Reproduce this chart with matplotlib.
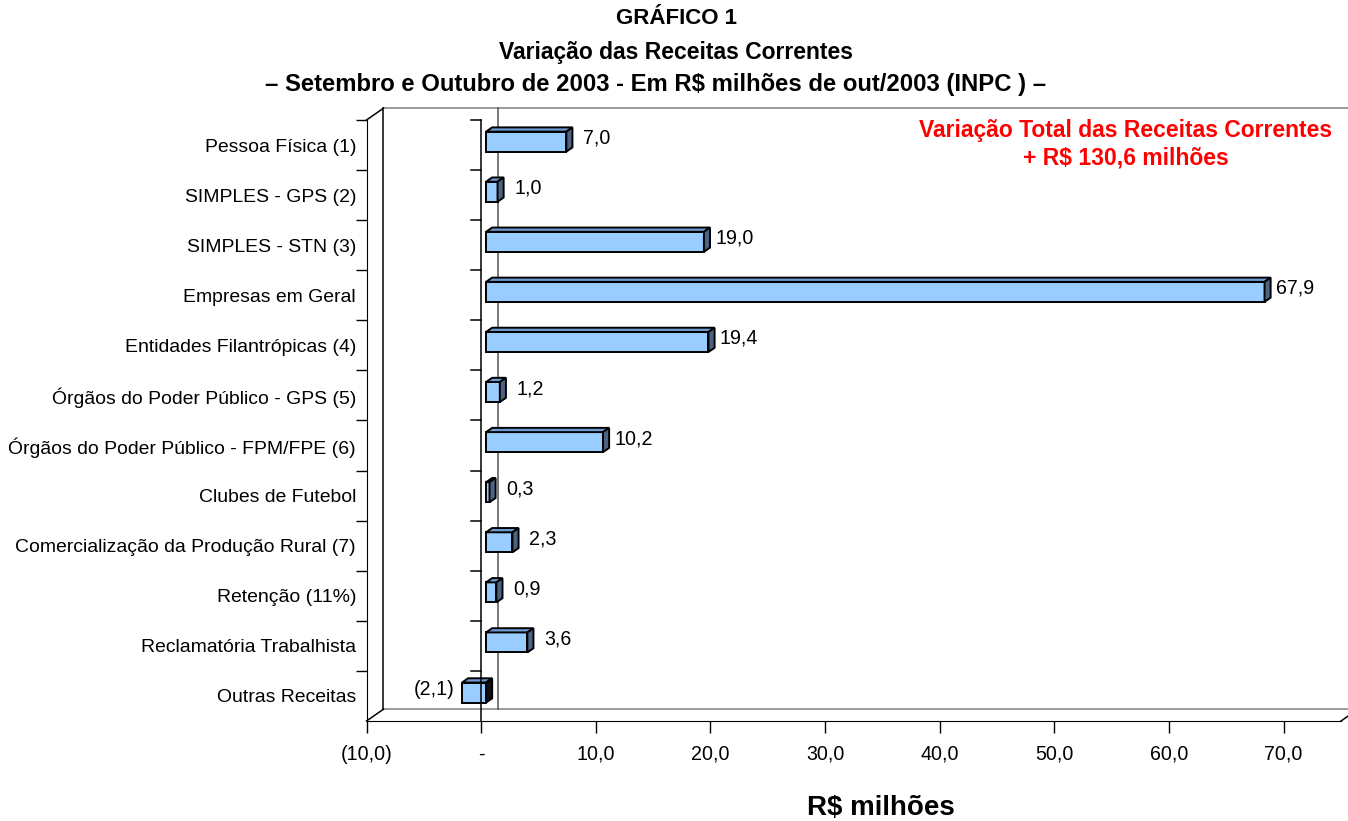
import numpy as np
import matplotlib
matplotlib.use("Agg")
import matplotlib.pyplot as plt
from matplotlib.patches import Polygon
from matplotlib.ticker import FuncFormatter, FixedLocator


categorias = [
    "Pessoa Física (1)",
    "SIMPLES - GPS (2)",
    "SIMPLES - STN (3)",
    "Empresas em Geral",
    "Entidades Filantrópicas (4)",
    "Órgãos do Poder Público - GPS (5)",
    "Órgãos do Poder Público - FPM/FPE (6)",
    "Clubes de Futebol",
    "Comercialização da Produção Rural (7)",
    "Retenção (11%)",
    "Reclamatória Trabalhista",
    "Outras Receitas",
]
variacao = [7.0, 1.0, 19.0, 67.9, 19.4, 1.2, 10.2, 0.3, 2.3, 0.9, 3.6, -2.1]
x_ticks = [-10, 0, 10, 20, 30, 40, 50, 60, 70]

titulo = [
    "GRÁFICO 1",
    "Variação das Receitas Correntes",
    "– Setembro e Outubro de 2003 - Em R$ milhões de out/2003 (INPC ) –",
]
destaque = ["Variação Total das Receitas Correntes", "+ R$ 130,6 milhões"]

FONT = "Liberation Sans"
FRONT = "#99CCFF"
TOP = "#6E9BD2"
SIDE = "#4B6484"
GRAY = "#808080"

# depth of the 3D box in data units (value, rows)
DX, DY = 1.48, 0.235
F0, F1 = 0.29, 0.65   # bar front/back as a fraction of the depth
HALF = 0.2            # half bar height in rows


def fmt_num(v):
    if abs(v) < 1e-9:
        return "-"
    s = f"{abs(v):.1f}".replace(".", ",")
    return f"({s})" if v < 0 else s


def main():
    plt.rcParams["font.family"] = [FONT, "DejaVu Sans"]
    fig = plt.figure(figsize=(13.48, 8.21), dpi=100)
    W, H = 1348, 821
    ax = fig.add_axes([366.5 / W, (H - 721) / H, 974.5 / W, 601 / H])

    n = len(categorias)
    xmin, xmax = -10, 75
    ax.set_xlim(xmin, xmax)
    ax.set_ylim(0, n)
    ax.set_facecolor("none")

    for s in ["top", "right"]:
        ax.spines[s].set_visible(False)
    ax.spines["left"].set_color("black")
    ax.spines["bottom"].set_color("black")

    # value axis
    ax.xaxis.set_major_locator(FixedLocator(x_ticks))
    ax.xaxis.set_major_formatter(FuncFormatter(lambda v, p: fmt_num(v)))
    ax.tick_params(axis="x", length=8.6, width=1, pad=8.5, labelsize=14.1)

    # category axis: labels at row centres, tick marks at row boundaries
    yc = n - 0.5 - np.arange(n)
    ax.set_yticks(yc)
    ax.set_yticklabels(categorias, fontsize=13.95)
    ax.tick_params(axis="y", which="major", length=0, pad=7.5)
    ax.yaxis.set_minor_locator(FixedLocator(np.arange(1, n + 1)))
    ax.tick_params(axis="y", which="minor", length=8, width=1)

    # back wall, floor and side wall
    line = dict(clip_on=False, lw=1.1)
    ax.plot([xmin + DX, xmax + DX + 2], [n + DY, n + DY], color=GRAY, **line)
    ax.plot([xmin + DX, xmax + DX + 2], [DY, DY], color=GRAY, **line)
    ax.plot([xmin + DX, xmin + DX], [DY, n + DY], color="black", **line)
    ax.plot([xmin, xmin + DX], [n, n + DY], color="black", **line)
    ax.plot([xmin, xmin + DX], [0, DY], color="black", **line)
    ax.plot([xmax, xmax + DX], [0, DY], color="black", **line)
    ax.plot([DX, DX], [DY, n + DY], color="#555555", **line)

    # front category line at zero with its ticks
    ax.plot([0, 0], [0, n], color="black", lw=1.1, zorder=6, clip_on=False)
    for k in range(1, n + 1):
        ax.plot([-0.87, 0], [k, k], color="black", lw=1.1, clip_on=False)

    # 3D bars
    sx0, sy0 = F0 * DX, F0 * DY
    sx1, sy1 = F1 * DX, F1 * DY
    for v, y in zip(variacao, yc):
        a, b = min(v, 0), max(v, 0)
        y0, y1 = y - HALF + sy0, y + HALF + sy0
        front = [(a + sx0, y0), (b + sx0, y0), (b + sx0, y1), (a + sx0, y1)]
        top = [(a + sx0, y1), (b + sx0, y1), (b + sx1, y1 + sy1 - sy0),
               (a + sx1, y1 + sy1 - sy0)]
        side = [(b + sx0, y0), (b + sx1, y0 + sy1 - sy0),
                (b + sx1, y1 + sy1 - sy0), (b + sx0, y1)]
        side_col = SIDE if v > 0 else "#111111"
        for pts, col in [(front, FRONT), (top, TOP), (side, side_col)]:
            ax.add_patch(Polygon(pts, closed=True, facecolor=col,
                                 edgecolor="black", lw=1.4, zorder=4,
                                 joinstyle="miter", clip_on=False))
        if v >= 0:
            ax.annotate(fmt_num(v), xy=(v + sx1, y), xytext=(17.5, 5),
                        textcoords="offset points", ha="center", va="center",
                        fontsize=14.1)
        else:
            ax.annotate(fmt_num(v), xy=(v + sx0, y), xytext=(-19.8, 5),
                        textcoords="offset points", ha="center", va="center",
                        fontsize=14.1)

    # titles and notes
    for txt, ypx, xpx, fs in zip(titulo, [19, 52, 85], [676, 676, 656],
                                 [16.0, 16.5, 17.2]):
        fig.text(xpx / W, 1 - ypx / H, txt, ha="center", va="center",
                 fontsize=fs, fontweight="bold")
    for txt, ypx in zip(destaque, [131, 158]):
        fig.text(1126 / W, 1 - ypx / H, txt, ha="center", va="center",
                 fontsize=16.5, fontweight="bold", color="#FF0000")
    fig.text(881 / W, 1 - 808 / H, "R$ milhões", ha="center", va="center",
             fontsize=20, fontweight="bold")

    fig.savefig("out.png", dpi=100, facecolor="white")


if __name__ == "__main__":
    main()
